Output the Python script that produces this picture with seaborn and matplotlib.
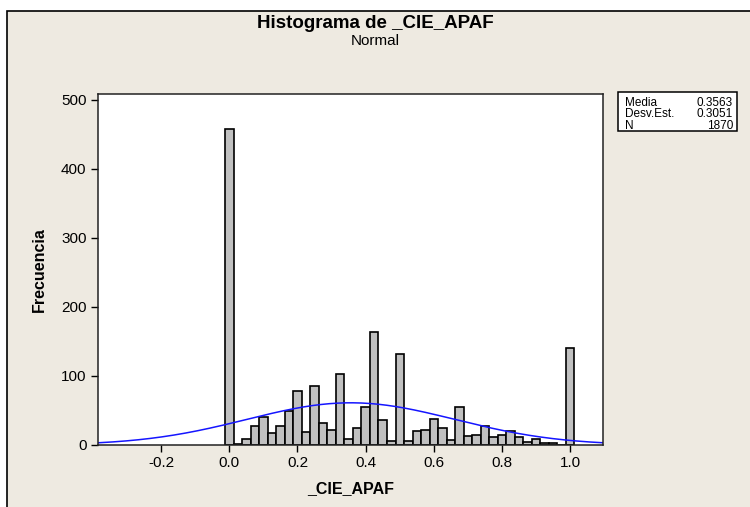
import numpy as np
import pandas as pd
import matplotlib
matplotlib.use('Agg')
import matplotlib.pyplot as plt
from matplotlib.patches import Rectangle
import seaborn as sns

# bin centres (width 0.025) and counts
bin_centers = [0.0, 0.025, 0.05, 0.075, 0.1, 0.125, 0.15, 0.175, 0.2, 0.225,
               0.25, 0.275, 0.3, 0.325, 0.35, 0.375, 0.4, 0.425, 0.45, 0.475,
               0.5, 0.525, 0.55, 0.575, 0.6, 0.625, 0.65, 0.675, 0.7, 0.725,
               0.75, 0.775, 0.8, 0.825, 0.85, 0.875, 0.9, 0.925, 0.95, 0.975,
               1.0]
counts = [458, 2, 9, 28, 41, 18, 28, 49, 78, 19,
          86, 32, 22, 103, 9, 24, 55, 164, 36, 6,
          132, 6, 21, 22, 38, 24, 7, 55, 13, 15,
          28, 11, 15, 20, 11, 5, 9, 3, 3, 0,
          140]

media = 0.3563
desv = 0.3051
n_obs = 1870
bin_width = 0.025

xticks = [-0.2, 0.0, 0.2, 0.4, 0.6, 0.8, 1.0]
yticks = [0, 100, 200, 300, 400, 500]

df = pd.DataFrame({'x': bin_centers, 'count': counts})

# fitted normal curve from the reported stats
xs = np.linspace(-0.386, 1.097, 300)
ys = n_obs * bin_width / (desv * np.sqrt(2 * np.pi)) * np.exp(-0.5 * ((xs - media) / desv) ** 2)
curve = pd.DataFrame({'x': xs, 'y': ys})

sns.set_style('ticks')
plt.rcParams['font.family'] = ['Liberation Sans', 'DejaVu Sans']
plt.rcParams['text.color'] = 'black'
plt.rcParams['axes.labelcolor'] = 'black'
plt.rcParams['xtick.color'] = 'black'
plt.rcParams['ytick.color'] = 'black'

fig = plt.figure(figsize=(7.5, 5.07), dpi=100)
fig.patch.set_facecolor('white')
bg = '#EEEAE1'
fig.patches.append(Rectangle((7 / 750, -0.1), 1.2, 0.1 + (507 - 11) / 507,
                             transform=fig.transFigure, facecolor=bg,
                             edgecolor='black', linewidth=1.2, zorder=-10))

ax = fig.add_axes([97.7 / 750, 1 - 445 / 507, (603.3 - 97.7) / 750, (445 - 94.3) / 507])
ax.set_zorder(1)
ax.set_facecolor('white')

sns.histplot(data=df, x='x', weights='count', binwidth=bin_width,
             binrange=(-bin_width / 2, 1.0 + bin_width / 2),
             color='#C0C0C0', edgecolor='black', linewidth=1.2, alpha=1, ax=ax)
sns.lineplot(data=curve, x='x', y='y', color='#1515FF', linewidth=1.1, ax=ax)

ax.set_xlim(-0.386, 1.097)
ax.set_ylim(0, 508)
ax.set_xticks(xticks)
ax.set_xticklabels([f'{t:.1f}' for t in xticks])
ax.set_yticks(yticks)
for sp in ax.spines.values():
    sp.set_visible(True)
    sp.set_linewidth(1.1)
    sp.set_color('#222222')
ax.tick_params(axis='both', labelsize=11, length=5, width=1, direction='out', pad=3)
ax.set_xlabel('_CIE_APAF', fontsize=11.5, fontweight='bold', labelpad=8)
ax.set_ylabel('Frecuencia', fontsize=11.5, fontweight='bold', labelpad=10)

fig.text(0.5, 1 - 23 / 507, 'Histograma de _CIE_APAF', ha='center', va='center',
         fontsize=13.5, fontweight='bold')
fig.text(0.5, 1 - 41 / 507, 'Normal', ha='center', va='center', fontsize=11)

# stats box
bx0, bx1, by0, by1 = 618, 737, 92, 131
fig.patches.append(Rectangle((bx0 / 750, 1 - by1 / 507), (bx1 - bx0) / 750, (by1 - by0) / 507,
                             transform=fig.transFigure, facecolor='white',
                             edgecolor='black', linewidth=1.1, zorder=2))
rows = [('Media', f'{media:.4f}'), ('Desv.Est.', f'{desv:.4f}'), ('N', f'{n_obs}')]
for i, (lab, val) in enumerate(rows):
    yy = 1 - (103 + i * 11.5) / 507
    fig.text(625 / 750, yy, lab, ha='left', va='center', fontsize=8.5, zorder=3)
    fig.text(733 / 750, yy, val, ha='right', va='center', fontsize=8.5, zorder=3)

fig.savefig('out.png', dpi=100, facecolor=fig.get_facecolor())
